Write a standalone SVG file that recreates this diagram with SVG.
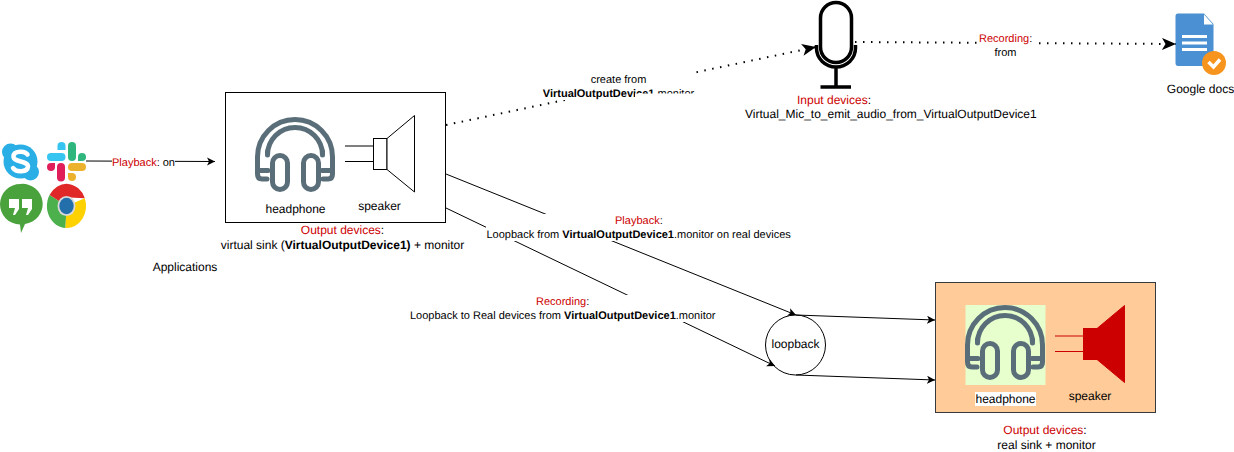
<svg xmlns="http://www.w3.org/2000/svg" width="1234" height="452" viewBox="0 0 1234 452">
<style>
text{font-family:"Liberation Sans",Arial,sans-serif;font-size:12px;fill:#000;text-rendering:geometricPrecision}
.s{font-size:11px}
.m{text-anchor:middle}
.r{fill:#cc0000}
.b{font-weight:bold}
.c{fill:none;stroke:#000;stroke-width:1}
.d{fill:none;stroke:#000;stroke-width:2;stroke-dasharray:1.500 6.500}
.hp{fill:none;stroke:#5a6e79;stroke-width:5;stroke-linejoin:round;stroke-linecap:round}
.sp{stroke:#000;stroke-width:1;fill:#fff}
.spr{stroke:#cc0000;stroke-width:1;fill:#cc0000}
</style>
<defs>
<marker id="a" markerUnits="userSpaceOnUse" markerWidth="10" markerHeight="10" refX="8" refY="4" orient="auto"><path d="M0 0L8 4L0 8L2 4z" fill="#000"/></marker>
<marker id="A" markerUnits="userSpaceOnUse" markerWidth="16" markerHeight="14" refX="14" refY="6" orient="auto"><path d="M0 0L14 6L0 12L3.500 6z" fill="#000"/></marker>
<g id="hpicon">
<path class="hp" d="M267 179H262Q257.500 179 257.500 174V157A37.500 37.500 0 0 1 332.500 157V174Q332.500 179 328 179H323"/>
<path class="hp" d="M267.500 152V156A27.500 27.500 0 0 1 322.500 156V152" transform="translate(0 -1)"/>
<rect class="hp" x="272.500" y="155.500" width="15" height="34" rx="7.500"/>
<rect class="hp" x="303.500" y="155.500" width="15" height="34" rx="7.500"/>
<path class="hp" d="M258 170.500H268M322 170.500H332"/>
</g>
</defs>

<g id="loopback">
<circle cx="795.500" cy="345" r="30" fill="#fff" stroke="#000"/>
<text class="m" x="795.500" y="348">loopback</text>
</g>

<g id="connectors">
<path class="c" marker-end="url(#a)" d="M86 161L215 161.500"/>
<path class="d" marker-end="url(#A)" d="M446 125L816 47"/>
<path class="d" marker-end="url(#A)" d="M855 42L1176 44"/>
<path class="c" marker-end="url(#a)" d="M446 174L796 315"/>
<path class="c" marker-end="url(#a)" d="M446 208L775 366"/>
<path class="c" marker-end="url(#a)" d="M796 315L935 320"/>
<path class="c" marker-end="url(#a)" d="M796 375L935 380"/>
</g>

<g id="edge-labels">
<rect x="112" y="155" width="63" height="14" fill="#fff"/>
<text class="s" x="112" y="166"><tspan class="r">Playback</tspan>: on</text>
<rect x="543" y="72" width="153" height="28" fill="#fff"/>
<text class="s m" x="618.500" y="83">create from</text>
<text class="s m" x="618.500" y="97"><tspan class="b">VirtualOutputDevice1</tspan>.monitor</text>
<rect x="635" y="93.500" width="62" height="7" fill="#fff"/>
<rect x="978" y="30" width="59" height="30" fill="#fff"/>
<text class="s" x="979" y="42"><tspan class="r">Recording</tspan>:</text>
<text class="s m" x="1005.500" y="56">from</text>
<rect x="486" y="214" width="305" height="27" fill="#fff"/>
<text class="s" x="615" y="224"><tspan class="r">Playback</tspan>:</text>
<text class="s" x="486.500" y="238">Loopback from <tspan class="b">VirtualOutputDevice1</tspan>.monitor on real devices</text>
<rect x="410" y="295" width="306" height="27" fill="#fff"/>
<text class="s" x="536" y="305"><tspan class="r">Recording</tspan>:</text>
<text class="s" x="410" y="319">Loopback to Real devices from <tspan class="b">VirtualOutputDevice1</tspan>.monitor</text>
</g>

<g id="skype">
<circle cx="20.500" cy="161.500" r="17" fill="#29aee6"/>
<circle cx="10.500" cy="152" r="8.500" fill="#29aee6"/>
<circle cx="30.500" cy="172" r="8.500" fill="#29aee6"/>
<path d="M27.500 154.500C25 150.500 13.500 150.500 13.500 156.500C13.500 162.500 28 160.500 28 166.500C27.500 172.500 16 172.500 13 168" fill="none" stroke="#fff" stroke-width="4.500" stroke-linecap="round"/>
</g>
<g id="slack">
<rect x="47" y="153" width="18.500" height="8" rx="4" fill="#36c5f0"/>
<path d="M57.500 150V146A4 4 0 1 1 65.500 146V150z" fill="#36c5f0"/>
<rect x="68" y="142" width="8" height="19" rx="4" fill="#2eb67d"/>
<path d="M78 161V157A4 4 0 1 1 86 157Q86 161 82 161z" fill="#2eb67d"/>
<rect x="57" y="163" width="8" height="18.500" rx="4" fill="#e01e5a"/>
<path d="M55 163V167A4 4 0 1 1 51 163z" fill="#e01e5a"/>
<rect x="68" y="163" width="18" height="8" rx="4" fill="#ecb22e"/>
<path d="M68 173H72A4 4 0 1 1 68 177z" fill="#ecb22e"/>
</g>
<g id="hangouts">
<path d="M20.500 184A19.800 20 0 0 1 25 224L21 233L20 224.500A20 20 0 0 1 20.500 184z" fill="#4aa23d"/>
<path d="M9 199H19V209L15 215H13L15 208H9zM22 199H32V209L28 215H26L28 208H22z" fill="#fff"/>
</g>
<g id="chrome">
<g transform="translate(66.500 206) scale(19.500 22)">
<path d="M0 0L-.87 -.5A1 1 0 0 1 .94 -.35L.4 -.38L0 -.4z" fill="#e02828"/>
<path d="M0 0L-.87 -.5A1 1 0 0 0 -.05 1z" fill="#4cb04c"/>
<path d="M0 0L.94 -.35A1 1 0 0 1 -.05 1z" fill="#fdd200"/>
<circle r=".46" fill="#d9d9d9"/>
<circle r=".37" fill="#236fab"/>
</g>
</g>
<text id="applications" class="m" x="185" y="271">Applications</text>

<g id="virtual-sink">
<rect x="225.500" y="92.500" width="220" height="130" fill="#fff" stroke="#000"/>
<use href="#hpicon"/>
<path class="sp" d="M345 146H373M345 161.500H373"/>
<rect class="sp" x="373.500" y="138.500" width="13.500" height="31"/>
<path class="sp" d="M387 138.500L414.500 115.500V192L387 169.500z"/>
<text class="m" x="295.500" y="213">headphone</text>
<text class="m" x="379.500" y="210">speaker</text>
<text class="m" x="342.500" y="234"><tspan class="r">Output devices</tspan>:</text>
<text class="m" x="342.500" y="249">virtual sink (<tspan class="b">VirtualOutputDevice1)</tspan> + monitor</text>
</g>

<g id="microphone">
<rect x="820.500" y="2.500" width="31" height="60" rx="15.500" fill="#fff" stroke="#000" stroke-width="3.500"/>
<path d="M816.500 45V48A19.500 19 0 0 0 855.500 48V45M836 67V87M820.500 87H851" fill="none" stroke="#000" stroke-width="3.500"/>
<text x="797" y="104"><tspan class="r">Input devices</tspan>:</text>
<text x="745" y="118">Virtual_Mic_to_emit_audio_from_VirtualOutputDevice1</text>
</g>

<g id="google-docs">
<path d="M1178 13.500H1204L1213.500 24V63Q1213.500 66 1210.500 66H1178Q1175.500 66 1175.500 63V16Q1175.500 13.500 1178 13.500z" fill="#4a90d2"/>
<path d="M1204 14.500L1213 24.500H1204z" fill="#fff"/>
<path d="M1182 36.500H1207M1182 43H1207M1182 49.500H1207" stroke="#fff" stroke-width="3" fill="none"/>
<circle cx="1214" cy="63" r="12" fill="#f7941e"/>
<path d="M1208.500 62L1213.500 67L1220 59.500" fill="none" stroke="#fff" stroke-width="3.500"/>
<text class="m" x="1200.500" y="93">Google docs</text>
</g>

<g id="real-sink">
<rect x="935.500" y="282.500" width="220" height="130" fill="#ffcc99" stroke="#36393d"/>
<rect x="965.500" y="305" width="80" height="80" fill="#e6ffcc"/>
<use href="#hpicon" transform="translate(710 188)"/>
<path d="M1055 336H1083M1055 351.500H1083" stroke="#cc0000" fill="none"/>
<rect class="spr" x="1083.500" y="328.500" width="13.500" height="31"/>
<path class="spr" d="M1097 328.500L1124.500 305.500V382.500L1097 359.500z"/>
<rect x="975" y="392" width="61" height="14" fill="#fff"/>
<text class="m" x="1005.500" y="403">headphone</text>
<text class="m" x="1090" y="400">speaker</text>
<text class="m" x="1045" y="434"><tspan class="r">Output devices</tspan>:</text>
<text class="m" x="1046.500" y="449">real sink + monitor</text>
</g>
</svg>
